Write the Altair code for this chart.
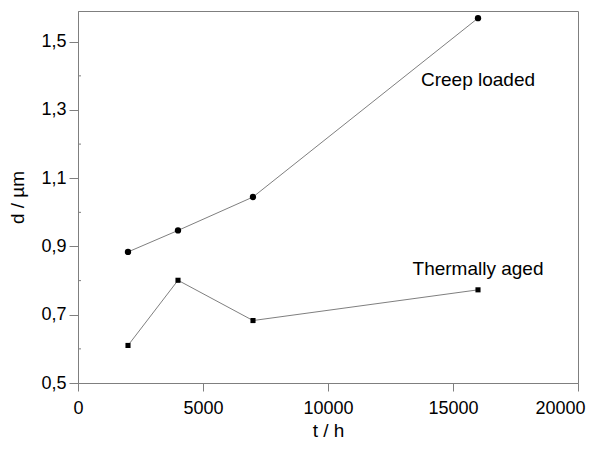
import altair as alt
import pandas as pd

# Data
t_creep = [2000, 4000, 7000, 16000]
d_creep = [0.884, 0.947, 1.045, 1.569]
t_thermal = [2000, 4000, 7000, 16000]
d_thermal = [0.610, 0.801, 0.683, 0.773]

y_ticks = [0.5, 0.7, 0.9, 1.1, 1.3, 1.5]
y_minor = [0.6, 0.8, 1.0, 1.2, 1.4]
x_ticks = [0, 5000, 10000, 15000, 20000]

labels = ["Creep loaded", "Thermally aged"]
label_t = [16000, 16000]
label_d = [1.388, 0.833]

FONT = "Liberation Sans"
GRAY = "#7f7f7f"

df = pd.DataFrame({
    "t": t_creep + t_thermal,
    "d": d_creep + d_thermal,
    "series": ["Creep loaded"] * len(t_creep) + ["Thermally aged"] * len(t_thermal),
})
lab = pd.DataFrame({"label": labels, "t": label_t, "d": label_d})
minor = pd.DataFrame({"d": y_minor})

x_scale = alt.Scale(domain=[0, 20000], nice=False, zero=False)
y_scale = alt.Scale(domain=[0.5, 1.59], nice=False, zero=False)

x_axis = alt.Axis(
    title="t / h", values=x_ticks, format="d", grid=False,
    labelFont=FONT, labelFontSize=18, labelColor="black",
    labelOffset={"condition": {"test": "datum.value == 20000", "value": -18}, "value": 0},
    titleFont=FONT, titleFontSize=19, titleFontWeight="normal", titleColor="black",
    domainColor=GRAY, tickColor=GRAY, tickSize=8, labelPadding=8, titlePadding=4,
    labelFlush=False, labelOverlap=False,
)
y_axis = alt.Axis(
    title="d / µm", values=y_ticks, grid=False,
    labelExpr="replace(format(datum.value, '.1f'), '.', ',')",
    labelFont=FONT, labelFontSize=18, labelColor="black",
    titleFont=FONT, titleFontSize=19, titleFontWeight="normal", titleColor="black",
    domainColor=GRAY, tickColor=GRAY, tickSize=9, labelPadding=3, titlePadding=13,
    labelFlush=False,
)

base = alt.Chart(df)

lines = base.mark_line(color=GRAY, strokeWidth=1).encode(
    x=alt.X("t:Q", scale=x_scale, axis=x_axis),
    y=alt.Y("d:Q", scale=y_scale, axis=y_axis),
    detail="series:N",
)

pts_creep = alt.Chart(df[df.series == "Creep loaded"]).mark_point(
    shape="circle", filled=True, color="black", opacity=1, size=40
).encode(x=alt.X("t:Q", scale=x_scale), y=alt.Y("d:Q", scale=y_scale))

pts_thermal = alt.Chart(df[df.series == "Thermally aged"]).mark_point(
    shape="square", filled=True, color="black", opacity=1, size=26
).encode(x=alt.X("t:Q", scale=x_scale), y=alt.Y("d:Q", scale=y_scale))

minor_ticks = alt.Chart(minor).mark_rule(color=GRAY, strokeWidth=1).encode(
    x=alt.value(0), x2=alt.value(3), y=alt.Y("d:Q", scale=y_scale)
)

texts = alt.Chart(lab).mark_text(
    font=FONT, fontSize=19, color="black", align="center", baseline="middle"
).encode(
    x=alt.X("t:Q", scale=x_scale), y=alt.Y("d:Q", scale=y_scale), text="label:N"
)

chart = alt.layer(lines, minor_ticks, pts_creep, pts_thermal, texts).properties(
    width=500, height=372,
    autosize=alt.AutoSizeParams(type="none"),
    padding={"left": 78, "top": 11, "right": 15, "bottom": 70},
    background="white",
).configure_view(stroke=GRAY, strokeWidth=1)

chart.save("out.html", embed_options={"renderer": "svg", "actions": False})
